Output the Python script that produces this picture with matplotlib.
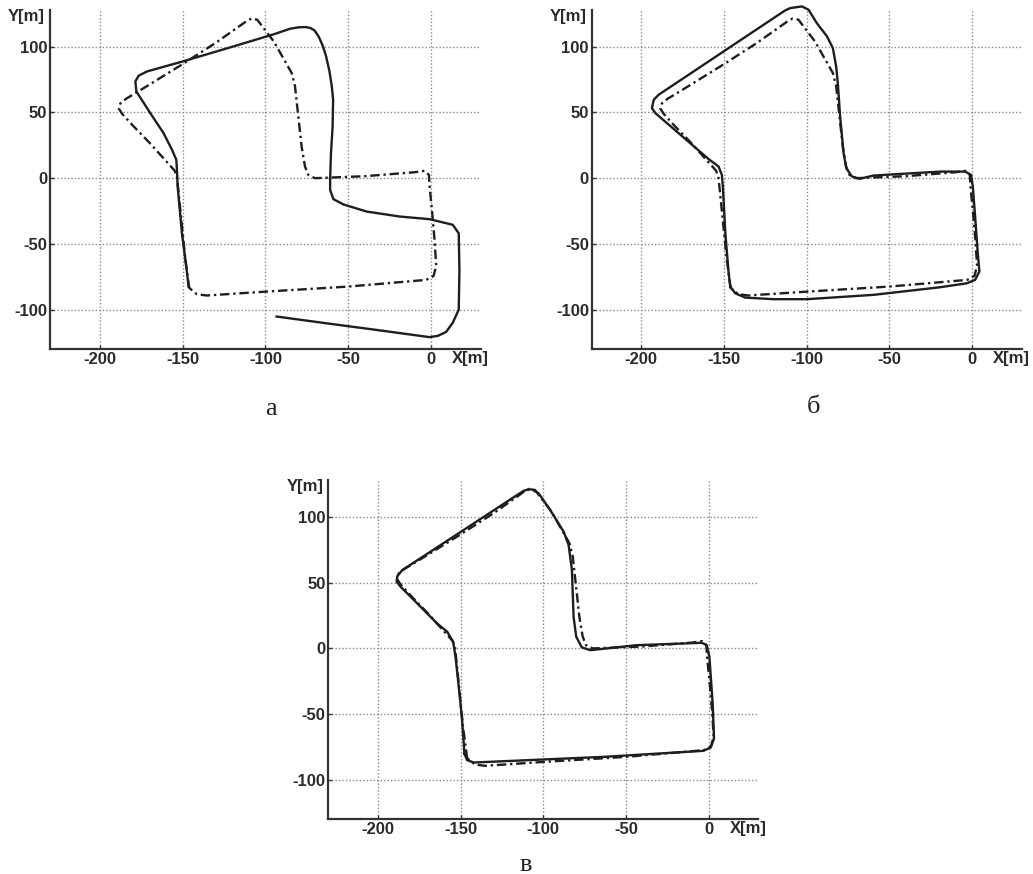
import numpy as np
import matplotlib.pyplot as plt

# reference path (dash-dot), same in all three panels
ref_x = [-146, -148.5, -150.5, -152.5, -153.5, -155, -160, -170, -180, -186.5, -188.5,
         -187.5, -184, -173.5, -151, -130, -112, -108.5, -105, -101, -95, -89.3, -84.2,
         -82.2, -80.2, -78.2, -76.2, -74.2, -70.2, -40, -10, -4, -1.4, -1, 0.6, 2, 3,
         1.4, -3, -50, -99.3, -135.4, -141.4, -145.8, -146]
ref_y = [-84, -60, -35, -10, 2, 6, 13, 27, 40, 49, 53,
         57, 60.5, 68.5, 86, 103, 119, 121.5, 120.6, 114, 104, 91.4, 80,
         70, 47, 24, 9, 2.5, 0, 1.5, 4.5, 5.6, 2.5, -6.3, -26.6, -47, -67,
         -74.4, -77.4, -82.5, -86.3, -89.3, -88.3, -83.8, -84]

# estimated path, panel а
est_a_x = [-146.4, -147.8, -150.4, -153, -153.4, -153.8, -156.4, -161.5, -169.5, -177.9,
           -178.5, -176.5, -171.5, -150, -120, -95, -85.2, -80, -76, -73, -70.5, -68,
           -65.5, -63.5, -61.5, -60, -59.2, -59.5, -60.5, -61, -61, -59, -53, -39, -19,
           -1, 13, 16.6, 17, 16.6, 13, 9, 4, -1, -30, -60, -93.3]
est_a_y = [-82.5, -67.3, -42, -6.3, 6.3, 14, 21.6, 34.3, 49.5, 66,
           73.6, 78, 81.2, 88.8, 100, 109.5, 113.7, 114.8, 115, 114.3, 112.5, 108,
           101, 93, 82, 70, 60, 39, 19, -1, -9, -16, -20, -25.4, -29.2,
           -31.2, -35.5, -42, -70, -100, -110, -117, -120, -121, -116, -111, -105.3]

# estimated path, panel б
est_b_x = [-146.2, -147.2, -149.2, -150.7, -151.3, -153.3, -159.3, -191.5, -193.6,
           -192.5, -189.5, -113, -110, -102.9, -98.9, -93.9, -87.8, -84.2, -82.2,
           -81.2, -79.8, -77.7, -76.1, -72.7, -68, -59.6, -19.3, -4.2, -0.6, 0.4,
           1.8, 3.4, 4.4, 1.8, -3.2, -19.3, -59.6, -99.9, -120, -137.2, -143.2, -146.2]
est_b_y = [-82.5, -72.3, -41.9, -6.3, 2.5, 8.9, 14.5, 49.5, 53.3,
           59.6, 63.5, 127.7, 129.4, 130.7, 128.2, 118, 108, 99, 85,
           72.3, 47, 19, 7.6, 1.3, -0.5, 2, 5, 5, 2.5, -6.3,
           -29, -57, -71, -77.4, -80, -83, -88.8, -92.1, -92.1, -90.9, -87.6, -82.5]

# estimated path, panel в
est_c_x = [-147.7, -149.1, -151.1, -153.1, -154.5, -158.1, -164.2, -174.2, -186.3,
           -188.7, -188.3, -185.3, -111.9, -108.9, -106.8, -102.8, -95.8, -87.7,
           -84.7, -82.7, -81.7, -80.1, -76.7, -71.6, -43.5, -4.2, -1.2, 0.4, 2.4,
           3.2, 1.2, -3.2, -63.6, -123.9, -142, -146.1, -147.7]
est_c_y = [-80, -54.6, -29.2, -6.3, 5, 12.7, 19, 31.7, 47,
           50.8, 55, 59.6, 120, 121, 121, 118, 105.3, 88.8,
           78.7, 59.6, 24, 8.9, 0.8, -1.3, 2.5, 4.3, 2.5, -6.3, -41.9,
           -68.5, -75.4, -77.9, -82.5, -85.8, -86.8, -85, -80]

x_ticks = [-200, -150, -100, -50, 0]
y_ticks = [-100, -50, 0, 50, 100]

panels = [
    ('а', est_a_x, est_a_y, [50 / 1033, 0.6007, 0.4172, 0.3879], (271, 409)),
    ('б', est_b_x, est_b_y, [591.7 / 1033, 0.6007, 0.4163, 0.3879], (814, 407)),
    ('в', est_c_x, est_c_y, [328.3 / 1033, 0.0626, 0.4163, 0.3879], (526, 865)),
]

fig = plt.figure(figsize=(10.33, 8.74), dpi=100)
ink = '#1e1e1e'

for name, ex, ey, rect, cap in panels:
    ax = fig.add_axes(rect)
    ax.plot(ref_x, ref_y, color=ink, lw=1.7, dashes=(4, 1.6, 1, 1.6), clip_on=False)
    ax.plot(ex, ey, color=ink, lw=1.7, solid_joinstyle='round', clip_on=False)
    ax.set_xlim(-230, 30)
    ax.set_ylim(-130, 128)
    ax.set_xticks(x_ticks)
    ax.set_yticks(y_ticks)
    ax.set_xticklabels([str(v) for v in x_ticks])
    ax.set_yticklabels([str(v) for v in y_ticks])
    ax.grid(True, color='#8a8a8a', linestyle=(0, (1, 1.5)), linewidth=1.0)
    ax.set_axisbelow(True)
    for s in ['top', 'right']:
        ax.spines[s].set_visible(False)
    for s in ['left', 'bottom']:
        ax.spines[s].set_linewidth(1.6)
        ax.spines[s].set_color('#333333')
    ax.tick_params(direction='in', length=3, width=1, color='#333333', pad=2)
    for lab in ax.get_xticklabels() + ax.get_yticklabels():
        lab.set_fontfamily('Liberation Sans')
        lab.set_fontweight('bold')
        lab.set_fontsize(12)
        lab.set_color('#2a2a2a')
    ax.text(-0.012, 0.982, 'Y[m]', transform=ax.transAxes, ha='right', va='center',
            fontsize=12, fontweight='bold', family='Liberation Sans', color='#2a2a2a')
    ax.text(0.933, -0.027, 'X[m]', transform=ax.transAxes, ha='left', va='center',
            fontsize=12, fontweight='bold', family='Liberation Sans', color='#2a2a2a')
    fig.text(cap[0] / 1033, 1 - cap[1] / 874, name, ha='center', va='center',
             fontsize=19, family='Liberation Serif', color='#222222')

fig.savefig('out.png', dpi=100)
